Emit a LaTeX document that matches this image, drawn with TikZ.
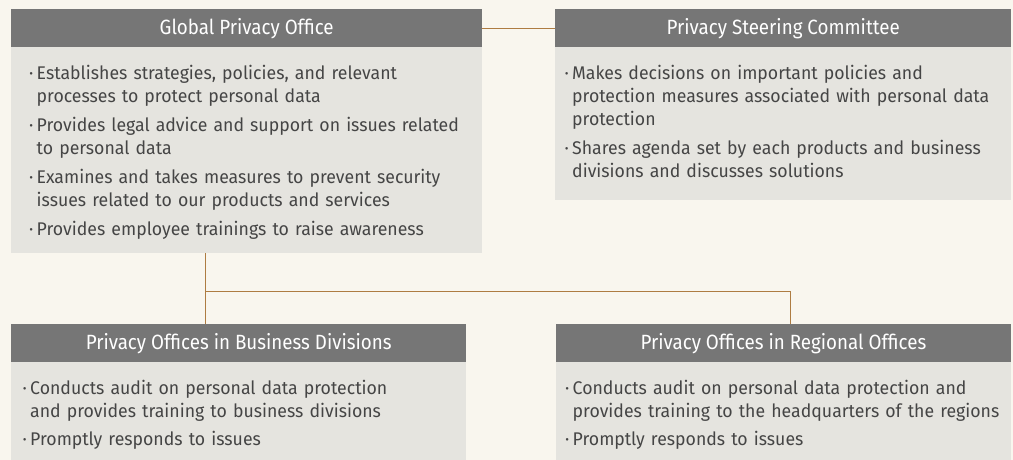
\documentclass[tikz,border=0pt]{standalone}
\usepackage{fontspec}
\setmainfont{Fira Sans}[FakeStretch=0.965]
\newfontfamily\headfont{Fira Sans}[FakeStretch=0.91]
\definecolor{bgc}{HTML}{F9F6EE}
\definecolor{headc}{HTML}{767676}
\definecolor{bodyc}{HTML}{E5E4DF}
\definecolor{linec}{HTML}{AE7C42}
\definecolor{txtc}{HTML}{454545}
\newcommand{\itm}[1]{\hangindent=7.5bp\hangafter=1\noindent\makebox[7.5bp][l]{·}#1\par}
\tikzset{
  headbox/.style={fill=headc, text=white, minimum height=38bp, inner sep=0pt, anchor=north west, font=\headfont\fontsize{20.7}{22}\selectfont},
  bodybox/.style={fill=bodyc, inner sep=0pt, anchor=north west},
  bodytext/.style={text=txtc, inner sep=0pt, anchor=base west, align=left, text width=460bp, font=\fontsize{18.4}{23.3}\selectfont},
  conn/.style={draw=linec, line width=1bp}
}
\begin{document}
\begin{tikzpicture}[x=1bp,y=-1bp]
\useasboundingbox[fill=bgc] (0,0) rectangle (1013,460);
% Global Privacy Office
\node[headbox, minimum width=471bp] (gpoHead) at (11,9) {Global Privacy Office};
\node[bodybox, minimum width=471bp, minimum height=205.5bp] (gpoBody) at (11,47) {};
\node[bodytext] (gpoText) at (29,79.5) {\parskip=5.5bp
\itm{Establishes strategies, policies, and relevant\newline processes to protect personal data}
\itm{Provides legal advice and support on issues related\newline to personal data}
\itm{Examines and takes measures to prevent security\newline issues related to our products and services}
\itm{Provides employee trainings to raise awareness}};
% Privacy Steering Committee
\node[headbox, minimum width=456bp] (pscHead) at (555,9) {Privacy Steering Committee};
\node[bodybox, minimum width=456bp, minimum height=153bp] (pscBody) at (555,47) {};
\node[bodytext, text width=445bp] (pscText) at (564.5,79.5) {\parskip=5.5bp
\itm{Makes decisions on important policies and\newline protection measures associated with personal data\newline protection}
\itm{Shares agenda set by each products and business\newline divisions and discusses solutions}};
% Business divisions
\node[headbox, minimum width=455bp] (bdHead) at (11,324) {Privacy Offices in Business Divisions};
\node[bodybox, minimum width=455bp, minimum height=98bp] (bdBody) at (11,362) {};
\node[bodytext, text width=440bp] (bdText) at (22.5,394.3) {\parskip=4.8bp
\itm{Conducts audit on personal data protection\newline and provides training to business divisions}
\itm{Promptly responds to issues}};
% Regional offices
\node[headbox, minimum width=455.5bp] (roHead) at (555.5,324) {Privacy Offices in Regional Offices};
\node[bodybox, minimum width=455.5bp, minimum height=98bp] (roBody) at (555.5,362) {};
\node[bodytext, text width=445bp] (roText) at (565,394.3) {\parskip=4.8bp
\itm{Conducts audit on personal data protection and\newline provides training to the headquarters of the regions}
\itm{Promptly responds to issues}};
% connectors
\coordinate (j) at (205.3,291.3);
\coordinate (k) at (790.5,291.3);
\draw[conn] (gpoHead.east) -- (pscHead.west);
\draw[conn] (gpoBody.south -| j) -- (bdHead.north -| j);
\draw[conn] (j) -- (k) -- (roHead.north -| k);
\end{tikzpicture}
\end{document}
